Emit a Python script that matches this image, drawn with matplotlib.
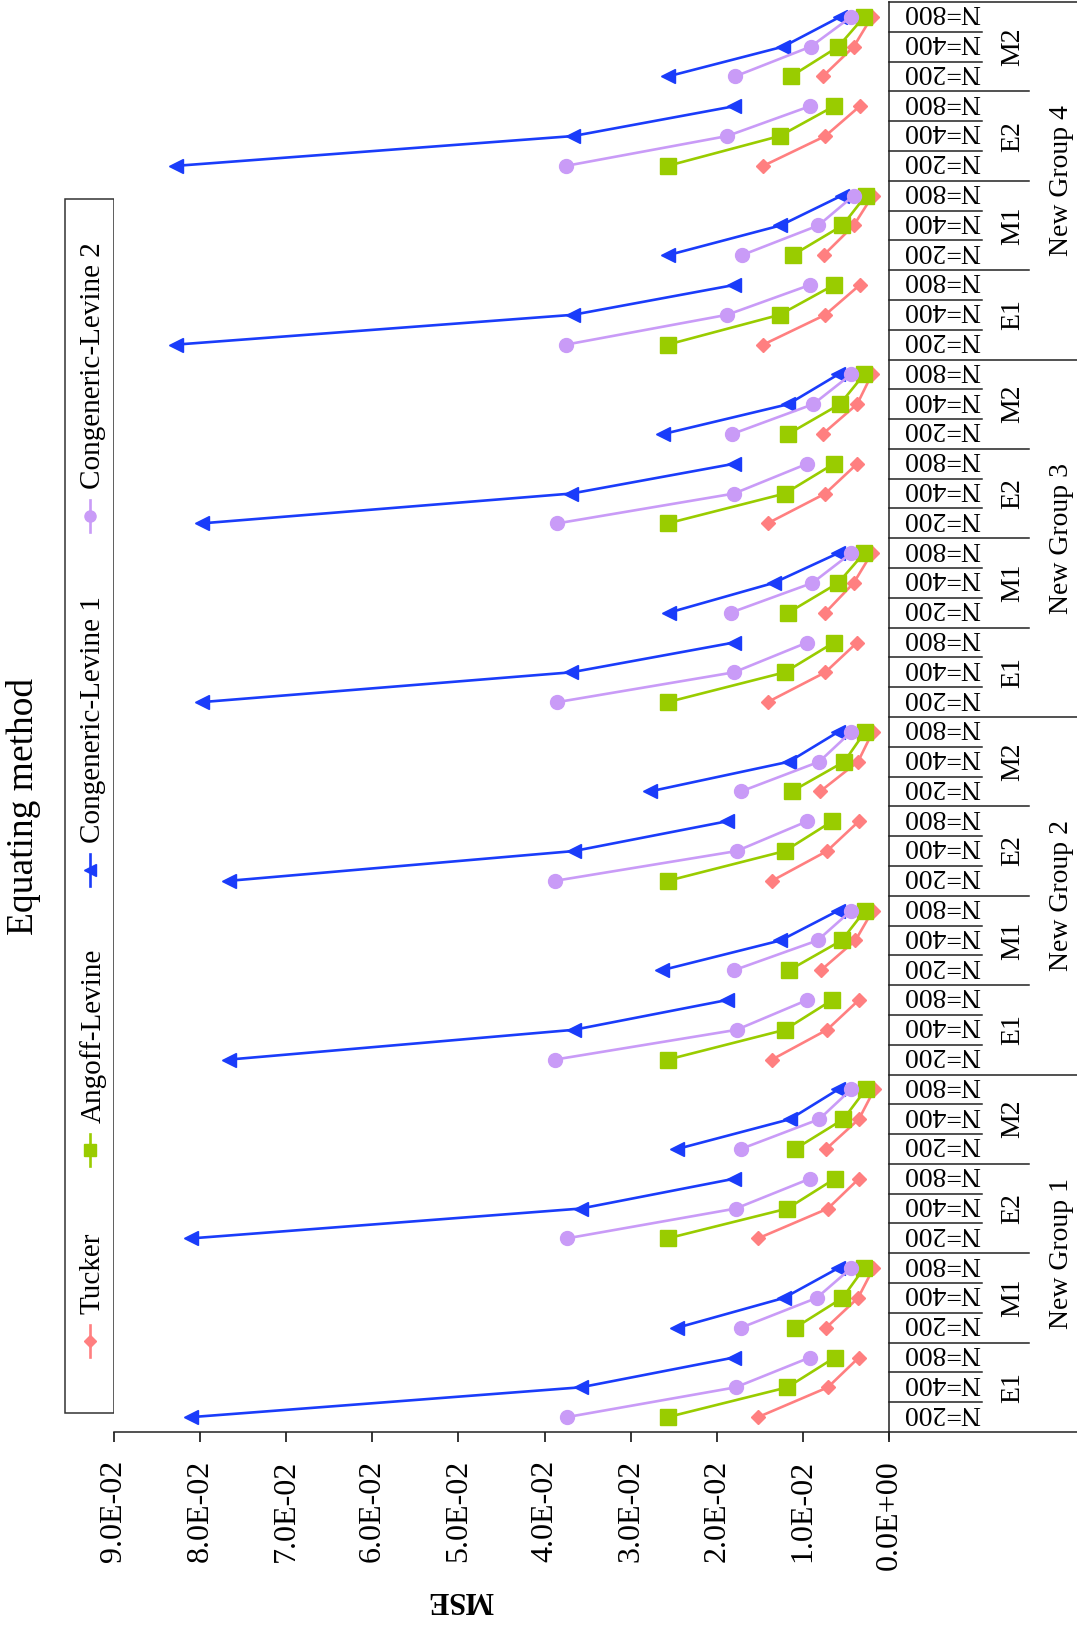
import numpy as np
import matplotlib.pyplot as plt
from matplotlib.patches import Rectangle
from matplotlib.ticker import FuncFormatter

plt.rcParams['font.family'] = ['Liberation Serif', 'DejaVu Serif']

groups = ['New Group 1', 'New Group 2', 'New Group 3', 'New Group 4']
conditions = ['E1', 'M1', 'E2', 'M2']
sizes = ['N=200', 'N=400', 'N=800']
methods = ['Tucker', 'Angoff-Levine', 'Congeneric-Levine 1', 'Congeneric-Levine 2']

# MSE values, ordered group -> condition (E1, M1, E2, M2) -> N (200, 400, 800)
tucker = [
    0.0152, 0.0071, 0.0035, 0.0073, 0.0036, 0.0018, 0.0152, 0.0071, 0.0035, 0.0073, 0.0035, 0.0017,
    0.0136, 0.0072, 0.0035, 0.0079, 0.0039, 0.0019, 0.0136, 0.0072, 0.0035, 0.0080, 0.0036, 0.0019,
    0.0141, 0.0074, 0.0037, 0.0074, 0.0041, 0.0020, 0.0141, 0.0074, 0.0037, 0.0077, 0.0037, 0.0020,
    0.0146, 0.0074, 0.0034, 0.0076, 0.0041, 0.0019, 0.0146, 0.0074, 0.0034, 0.0077, 0.0041, 0.0020,
]
angoff = [
    0.0257, 0.0118, 0.0063, 0.0109, 0.0054, 0.0029, 0.0257, 0.0118, 0.0063, 0.0109, 0.0053, 0.0027,
    0.0257, 0.0121, 0.0066, 0.0116, 0.0055, 0.0028, 0.0257, 0.0121, 0.0066, 0.0113, 0.0052, 0.0028,
    0.0257, 0.0121, 0.0064, 0.0117, 0.0059, 0.0029, 0.0257, 0.0121, 0.0064, 0.0117, 0.0057, 0.0029,
    0.0257, 0.0127, 0.0064, 0.0112, 0.0054, 0.0027, 0.0257, 0.0127, 0.0064, 0.0114, 0.0059, 0.0029,
]
congeneric1 = [
    0.0810, 0.0358, 0.0180, 0.0246, 0.0122, 0.0059, 0.0810, 0.0358, 0.0180, 0.0246, 0.0115, 0.0059,
    0.0767, 0.0366, 0.0188, 0.0264, 0.0126, 0.0059, 0.0767, 0.0366, 0.0188, 0.0278, 0.0116, 0.0059,
    0.0798, 0.0369, 0.0180, 0.0256, 0.0134, 0.0059, 0.0798, 0.0369, 0.0180, 0.0262, 0.0117, 0.0059,
    0.0828, 0.0367, 0.0180, 0.0257, 0.0126, 0.0055, 0.0828, 0.0367, 0.0180, 0.0257, 0.0123, 0.0057,
]
congeneric2 = [
    0.0374, 0.0178, 0.0092, 0.0172, 0.0084, 0.0044, 0.0374, 0.0178, 0.0092, 0.0172, 0.0081, 0.0044,
    0.0388, 0.0177, 0.0095, 0.0180, 0.0083, 0.0044, 0.0388, 0.0177, 0.0095, 0.0172, 0.0081, 0.0044,
    0.0385, 0.0180, 0.0095, 0.0184, 0.0089, 0.0044, 0.0385, 0.0180, 0.0095, 0.0182, 0.0088, 0.0044,
    0.0375, 0.0188, 0.0092, 0.0171, 0.0082, 0.0041, 0.0375, 0.0188, 0.0092, 0.0179, 0.0091, 0.0044,
]

colors = ['#FF7F80', '#99CC00', '#1A3CFA', '#C99BF7']
markers = ['D', 's', '<', 'o']
msizes = [7.5, 11, 10, 10]
series = [tucker, angoff, congeneric1, congeneric2]

W, H = 1077, 1627
L, R, T, B = 114, 889, 2, 1432
fig = plt.figure(figsize=(W / 100, H / 100), dpi=100)
ax = fig.add_axes([L / W, 1 - B / H, (R - L) / W, (B - T) / H])

n_cells = len(groups) * len(conditions)
pos = np.arange(n_cells * 3).reshape(n_cells, 3) + 0.5
for vals, c, m, ms in zip(series, colors, markers, msizes):
    v = np.array(vals).reshape(n_cells, 3)
    for i in range(n_cells):
        ax.plot(v[i], pos[i], color=c, marker=m, ms=ms, mfc=c, mec=c, lw=1.9)

ax.set_xlim(0.09, 0)
ax.set_ylim(0, n_cells * 3)
ax.set_xticks([i / 100 for i in range(10)])
ax.xaxis.set_major_formatter(FuncFormatter(lambda v, p: '{:.1E}'.format(abs(v))))
ax.tick_params(axis='x', direction='out', length=7, width=1.1, pad=13,
               labelsize=23, labelrotation=90)
for s in ['left', 'top']:
    ax.spines[s].set_visible(False)
for s in ['bottom', 'right']:
    ax.spines[s].set_linewidth(1.1)
    ax.spines[s].set_color('#222222')
ax.set_yticks([])

# category table on the right
tr = ax.get_yaxis_transform()
xn = (982 - L) / (R - L)
xc = (1029 - L) / (R - L)
xg = (W - L) / (R - L)
for k in range(n_cells * 3 + 1):
    if k % 12 == 0:
        xe = xg
    elif k % 3 == 0:
        xe = xc
    else:
        xe = xn
    ax.plot([1, xe], [k, k], color='#222222', lw=1.1, transform=tr, clip_on=False)
ax.plot([1, 1], [0, -0.25], color='#222222', lw=1.1, transform=tr, clip_on=False)

for y, lab in zip(pos.ravel(), sizes * n_cells):
    ax.text((942 - L) / (R - L), y + 0.17, lab, transform=tr, rotation=180,
            ha='center', va='center', fontsize=20)
for g, gname in enumerate(groups):
    ax.text((1062 - L) / (R - L), g * 12 + 6, gname, transform=tr, rotation=90,
            ha='center', va='center', fontsize=20)
    for c, cname in enumerate(conditions):
        ax.text((1013 - L) / (R - L), g * 12 + c * 3 + 1.5, cname, transform=tr,
                rotation=90, ha='center', va='center', fontsize=20)

# overlay in pixel coordinates for legend, title and axis label
ov = fig.add_axes([0, 0, 1, 1], zorder=-1)
ov.set_xlim(0, W)
ov.set_ylim(H, 0)
ov.axis('off')

ov.add_patch(Rectangle((65, 199), 49, 1214, fill=False, ec='#333333', lw=1.1))
leg_marker_y = [1341, 1150, 870, 516]
for name, c, m, ms, my in zip(methods, colors, markers, msizes, leg_marker_y):
    ov.plot([90, 90], [my - 16, my + 16], color=c, lw=1.9)
    ov.plot([90], [my], marker=m, color=c, ms=ms * 0.8, mec=c)
    ov.text(93, my - 27, name, rotation=90, ha='center', va='bottom', fontsize=21)

ov.text(24, 806, 'Equating method', rotation=90, ha='center', va='center', fontsize=27)
ov.text(460, 1600, 'MSE', rotation=180, ha='center', va='center', fontsize=22,
        fontweight='bold')

fig.savefig('out.png', dpi=100)
